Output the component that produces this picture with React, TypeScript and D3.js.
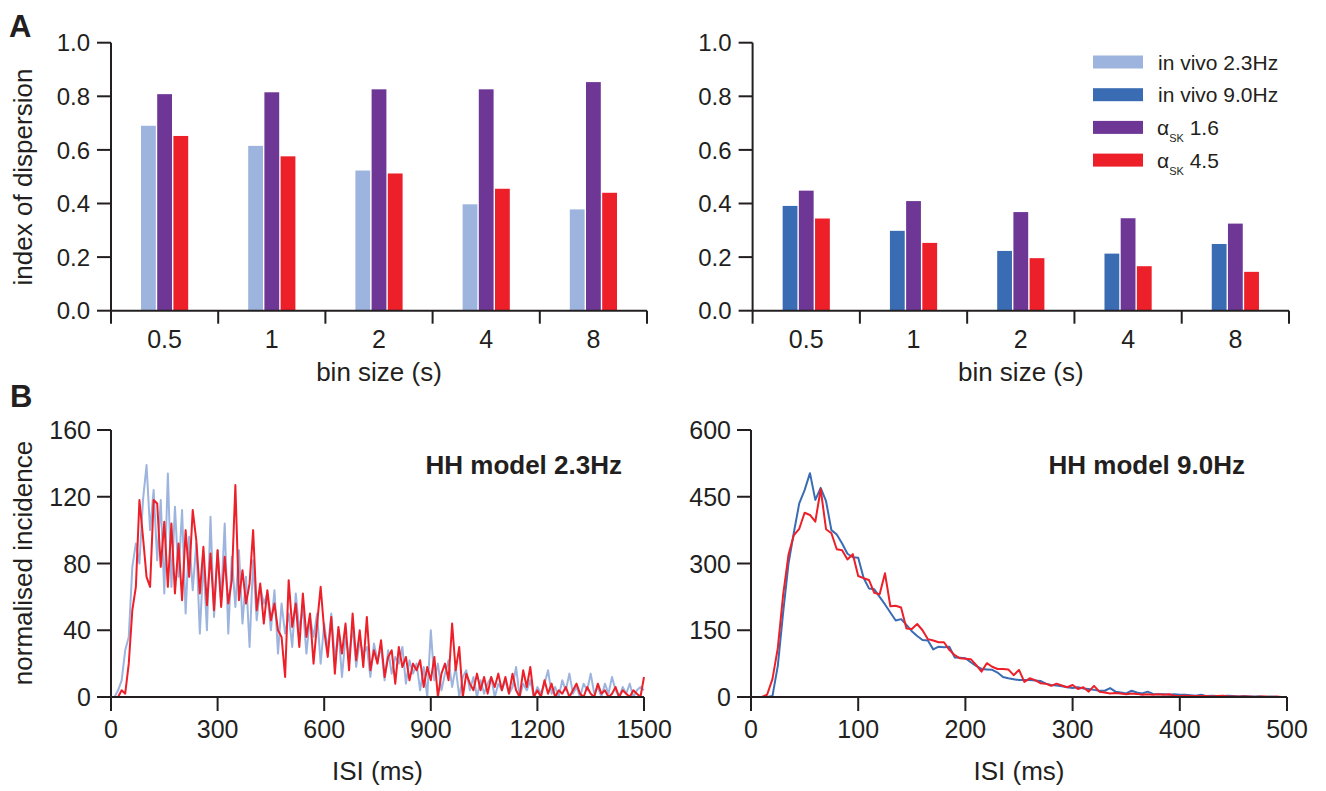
import React from "react";
import * as d3 from "d3";

// ---------- DATA ----------
const binSizes = ["0.5", "1", "2", "4", "8"];
const inVivo23 = [0.69, 0.615, 0.523, 0.397, 0.378];
const alpha16Left = [0.808, 0.815, 0.826, 0.826, 0.853];
const alpha45Left = [0.652, 0.576, 0.512, 0.455, 0.44];
const inVivo90 = [0.391, 0.298, 0.223, 0.213, 0.249];
const alpha16Right = [0.448, 0.409, 0.368, 0.345, 0.325];
const alpha45Right = [0.344, 0.253, 0.196, 0.166, 0.145];
const dispTicks = [0, 0.2, 0.4, 0.6, 0.8, 1.0];

// HH model 2.3 Hz: ISI histogram, 10 ms bins (0..1500 ms)
const isiStep23 = 10;
const hh23Vivo = [
  0, 0, 4, 10, 28, 36, 78, 92, 80, 118, 139, 100, 124, 82, 118, 62, 134, 66, 114, 72,
  112, 50, 96, 64, 92, 38, 82, 40, 108, 48, 88, 58, 104, 38, 84, 54, 88, 44, 72, 30,
  82, 46, 66, 56, 62, 40, 64, 26, 56, 38, 50, 30, 62, 40, 54, 26, 48, 36, 50, 20,
  44, 28, 50, 22, 40, 12, 36, 24, 42, 18, 34, 26, 30, 12, 32, 22, 30, 10, 28, 14,
  24, 20, 30, 8, 22, 14, 20, 4, 18, 0, 40, 10, 20, 4, 14, 22, 6, 18, 0, 12,
  16, 4, 12, 0, 10, 2, 8, 12, 0, 8, 4, 10, 2, 6, 18, 0, 8, 4, 10, 0,
  6, 2, 8, 16, 2, 6, 0, 10, 4, 14, 2, 6, 0, 8, 4, 14, 2, 6, 0, 8,
  2, 12, 4, 0, 6, 2, 8, 0, 4, 6, 4,
];
const hh23Model = [
  0, 0, 0, 4, 2, 20, 52, 66, 118, 96, 72, 66, 118, 116, 78, 105, 66, 104, 62, 92,
  58, 100, 72, 112, 94, 62, 90, 55, 86, 52, 88, 54, 84, 56, 70, 127, 58, 76, 56, 68,
  100, 52, 68, 44, 64, 46, 56, 40, 36, 12, 70, 42, 56, 30, 62, 36, 50, 20, 44, 66,
  40, 24, 48, 14, 42, 26, 44, 16, 50, 22, 40, 18, 48, 16, 28, 20, 34, 12, 24, 28,
  8, 30, 18, 24, 10, 20, 16, 22, 6, 18, 10, 24, 0, 14, 20, 10, 44, 16, 30, 0,
  14, 8, 4, 14, 4, 12, 2, 12, 6, 14, 4, 12, 2, 14, 4, 0, 16, 6, 18, 0,
  4, 0, 10, 2, 8, 0, 4, 2, 6, 0, 4, 8, 2, 0, 6, 2, 0, 8, 2, 4,
  0, 2, 6, 0, 4, 2, 0, 4, 2, 0, 12,
];
const ticks23X = [0, 300, 600, 900, 1200, 1500];
const ticks23Y = [0, 40, 80, 120, 160];

// HH model 9.0 Hz: ISI histogram, 5 ms bins (0..500 ms)
const isiStep90 = 5;
const hh90Vivo = [
  0, 0, 0, 0, 2, 70, 190, 300, 370, 435, 465, 503, 443, 470, 440, 375, 365, 345, 322, 314,
  313, 268, 244, 242, 225, 208, 190, 172, 175, 162, 148, 137, 128, 127, 107, 113, 112, 113, 89, 88,
  87, 78, 70, 63, 62, 61, 55, 45, 42, 40, 38, 38, 38, 37, 36, 30, 27, 26, 24, 22,
  20, 22, 19, 18, 16, 14, 14, 20, 12, 10, 8, 14, 10, 8, 12, 7, 6, 6, 5, 6,
  5, 5, 4, 3, 5, 2, 3, 2, 2, 3, 2, 1, 2, 1, 1, 1, 0, 1, 0, 0, 0,
];
const hh90Model = [
  0, 0, 0, 5, 40, 110, 230, 320, 364, 378, 414, 409, 394, 467, 377, 368, 332, 330, 309, 321,
  272, 267, 263, 234, 231, 278, 204, 205, 201, 154, 153, 164, 150, 130, 127, 123, 123, 106, 94, 87,
  86, 85, 72, 57, 76, 68, 63, 63, 62, 49, 61, 34, 42, 38, 31, 30, 25, 30, 26, 22,
  27, 18, 22, 12, 25, 12, 10, 8, 9, 8, 6, 8, 7, 5, 6, 5, 6, 5, 6, 3,
  2, 3, 2, 2, 2, 2, 1, 2, 3, 1, 1, 1, 1, 1, 0, 1, 1, 0, 1, 0, 0,
];
const ticks90X = [0, 100, 200, 300, 400, 500];
const ticks90Y = [0, 150, 300, 450, 600];

const legendItems = [
  { kind: "text", label: "in vivo 2.3Hz", color: "#9db4de" },
  { kind: "text", label: "in vivo 9.0Hz", color: "#3a6cb4" },
  { kind: "alpha", label: "1.6", color: "#6e3795" },
  { kind: "alpha", label: "4.5", color: "#ed1f28" },
];

// ---------- STYLE ----------
const C = {
  light: "#9db4de",
  blue: "#3a6cb4",
  purple: "#6e3795",
  red: "#ed1f28",
  ink: "#231f20",
};
const FONT = "'Liberation Sans', Arial, Helvetica, sans-serif";
const TICK_FS = 24;
const TICK_FS_B = 25;
const TITLE_FS = 26;

function BarPanel({ x0, x1, yTop, yBottom, series, colors }) {
  const x = d3.scaleBand().domain(binSizes).range([x0, x1]).paddingInner(0).paddingOuter(0);
  const y = d3.scaleLinear().domain([0, 1]).range([yBottom, yTop]);
  const bw = 14.8;
  const offs = [-16.2, 0, 16.2];
  const bounds = [...binSizes.map((b) => x(b)), x1];
  return (
    <g>
      {series.map((vals, si) =>
        vals.map((v, i) => {
          const cx = x(binSizes[i]) + x.bandwidth() / 2 + offs[si];
          return (
            <rect
              key={`${si}-${i}`}
              x={cx - bw / 2}
              y={y(v)}
              width={bw}
              height={y(0) - y(v)}
              fill={colors[si]}
            />
          );
        })
      )}
      <line x1={x0} x2={x0} y1={y(1)} y2={y(0)} stroke={C.ink} strokeWidth={2} />
      {dispTicks.map((t) => (
        <g key={t}>
          <line x1={x0 - 14} x2={x0} y1={y(t)} y2={y(t)} stroke={C.ink} strokeWidth={2} />
          <text x={x0 - 21} y={y(t)} dy="0.36em" textAnchor="end" fontSize={TICK_FS} fill={C.ink}>
            {t.toFixed(1)}
          </text>
        </g>
      ))}
      <line x1={x0} x2={x1} y1={y(0)} y2={y(0)} stroke={C.ink} strokeWidth={2} />
      {bounds.map((b, i) => (
        <line key={i} x1={b} x2={b} y1={y(0)} y2={y(0) + 13} stroke={C.ink} strokeWidth={2} />
      ))}
      {binSizes.map((b) => (
        <text
          key={b}
          x={x(b) + x.bandwidth() / 2}
          y={y(0) + 37}
          textAnchor="middle"
          fontSize={TICK_FS_B}
          fill={C.ink}
        >
          {b}
        </text>
      ))}
      <text x={(x0 + x1) / 2} y={381} textAnchor="middle" fontSize={TITLE_FS} fill={C.ink}>
        bin size (s)
      </text>
    </g>
  );
}

function LinePanel({ x0, x1, yTop, yBottom, xMax, yMax, xTicks, yTicks, step, series, colors, title, titleX }) {
  const x = d3.scaleLinear().domain([0, xMax]).range([x0, x1]);
  const y = d3.scaleLinear().domain([0, yMax]).range([yBottom, yTop]);
  const line = d3
    .line()
    .x((d, i) => x(i * step))
    .y((d) => y(d));
  return (
    <g>
      {series.map((s, i) => (
        <path key={i} d={line(s)} fill="none" stroke={colors[i]} strokeWidth={2} strokeLinejoin="round" />
      ))}
      <line x1={x0} x2={x0} y1={y(yMax)} y2={y(0)} stroke={C.ink} strokeWidth={2} />
      {yTicks.map((t) => (
        <g key={t}>
          <line x1={x0 - 14} x2={x0} y1={y(t)} y2={y(t)} stroke={C.ink} strokeWidth={2} />
          <text x={x0 - 20} y={y(t)} dy="0.36em" textAnchor="end" fontSize={TICK_FS_B} fill={C.ink}>
            {t}
          </text>
        </g>
      ))}
      <line x1={x0} x2={x1} y1={y(0)} y2={y(0)} stroke={C.ink} strokeWidth={2} />
      {xTicks.map((t) => (
        <g key={t}>
          <line x1={x(t)} x2={x(t)} y1={y(0)} y2={y(0) + 14} stroke={C.ink} strokeWidth={2} />
          <text x={x(t)} y={738} textAnchor="middle" fontSize={TICK_FS_B} fill={C.ink}>
            {t}
          </text>
        </g>
      ))}
      <text x={(x0 + x1) / 2} y={780} textAnchor="middle" fontSize={TITLE_FS} fill={C.ink}>
        ISI (ms)
      </text>
      <text x={titleX} y={474} textAnchor="end" fontSize={26} fontWeight="bold" fill={C.ink}>
        {title}
      </text>
    </g>
  );
}

export default function App() {
  return (
    <svg
      width={1326}
      height={791}
      style={{ position: "absolute", left: 0, top: 0, background: "#fff" }}
      fontFamily={FONT}
    >
      <rect x={0} y={0} width={1326} height={791} fill="#fff" />
      <text x={9} y={37} fontSize={31} fontWeight="bold" fill={C.ink}>A</text>
      <text x={10} y={407} fontSize={31} fontWeight="bold" fill={C.ink}>B</text>

      <text transform="translate(32,177) rotate(-90)" textAnchor="middle" fontSize={TITLE_FS} fill={C.ink}>
        index of dispersion
      </text>
      <text transform="translate(32,563) rotate(-90)" textAnchor="middle" fontSize={TITLE_FS} fill={C.ink}>
        normalised incidence
      </text>

      <BarPanel
        x0={111}
        x1={647}
        yTop={42.7}
        yBottom={310.7}
        series={[inVivo23, alpha16Left, alpha45Left]}
        colors={[C.light, C.purple, C.red]}
      />
      <BarPanel
        x0={752.6}
        x1={1289}
        yTop={42.7}
        yBottom={310.7}
        series={[inVivo90, alpha16Right, alpha45Right]}
        colors={[C.blue, C.purple, C.red]}
      />

      {legendItems.map((it, i) => {
        const cy = 62 + i * 32.7;
        return (
          <g key={i}>
            <rect x={1093} y={cy - 6.5} width={50} height={13} fill={it.color} />
            {it.kind === "text" ? (
              <text x={1158} y={cy} dy="0.36em" fontSize={21} fill={C.ink}>
                {it.label}
              </text>
            ) : (
              <text x={1157} y={cy} dy="0.36em" fontSize={21} fill={C.ink}>
                α
                <tspan fontSize={11} dy={7}>SK</tspan>
                <tspan fontSize={21} dy={-7}> {it.label}</tspan>
              </text>
            )}
          </g>
        );
      })}

      <LinePanel
        x0={111}
        x1={644}
        yTop={430}
        yBottom={697}
        xMax={1500}
        yMax={160}
        xTicks={ticks23X}
        yTicks={ticks23Y}
        step={isiStep23}
        series={[hh23Vivo, hh23Model]}
        colors={[C.light, C.red]}
        title="HH model 2.3Hz"
        titleX={622}
      />
      <LinePanel
        x0={751}
        x1={1287}
        yTop={430}
        yBottom={697}
        xMax={500}
        yMax={600}
        xTicks={ticks90X}
        yTicks={ticks90Y}
        step={isiStep90}
        series={[hh90Vivo, hh90Model]}
        colors={[C.blue, C.red]}
        title="HH model 9.0Hz"
        titleX={1245}
      />
    </svg>
  );
}
